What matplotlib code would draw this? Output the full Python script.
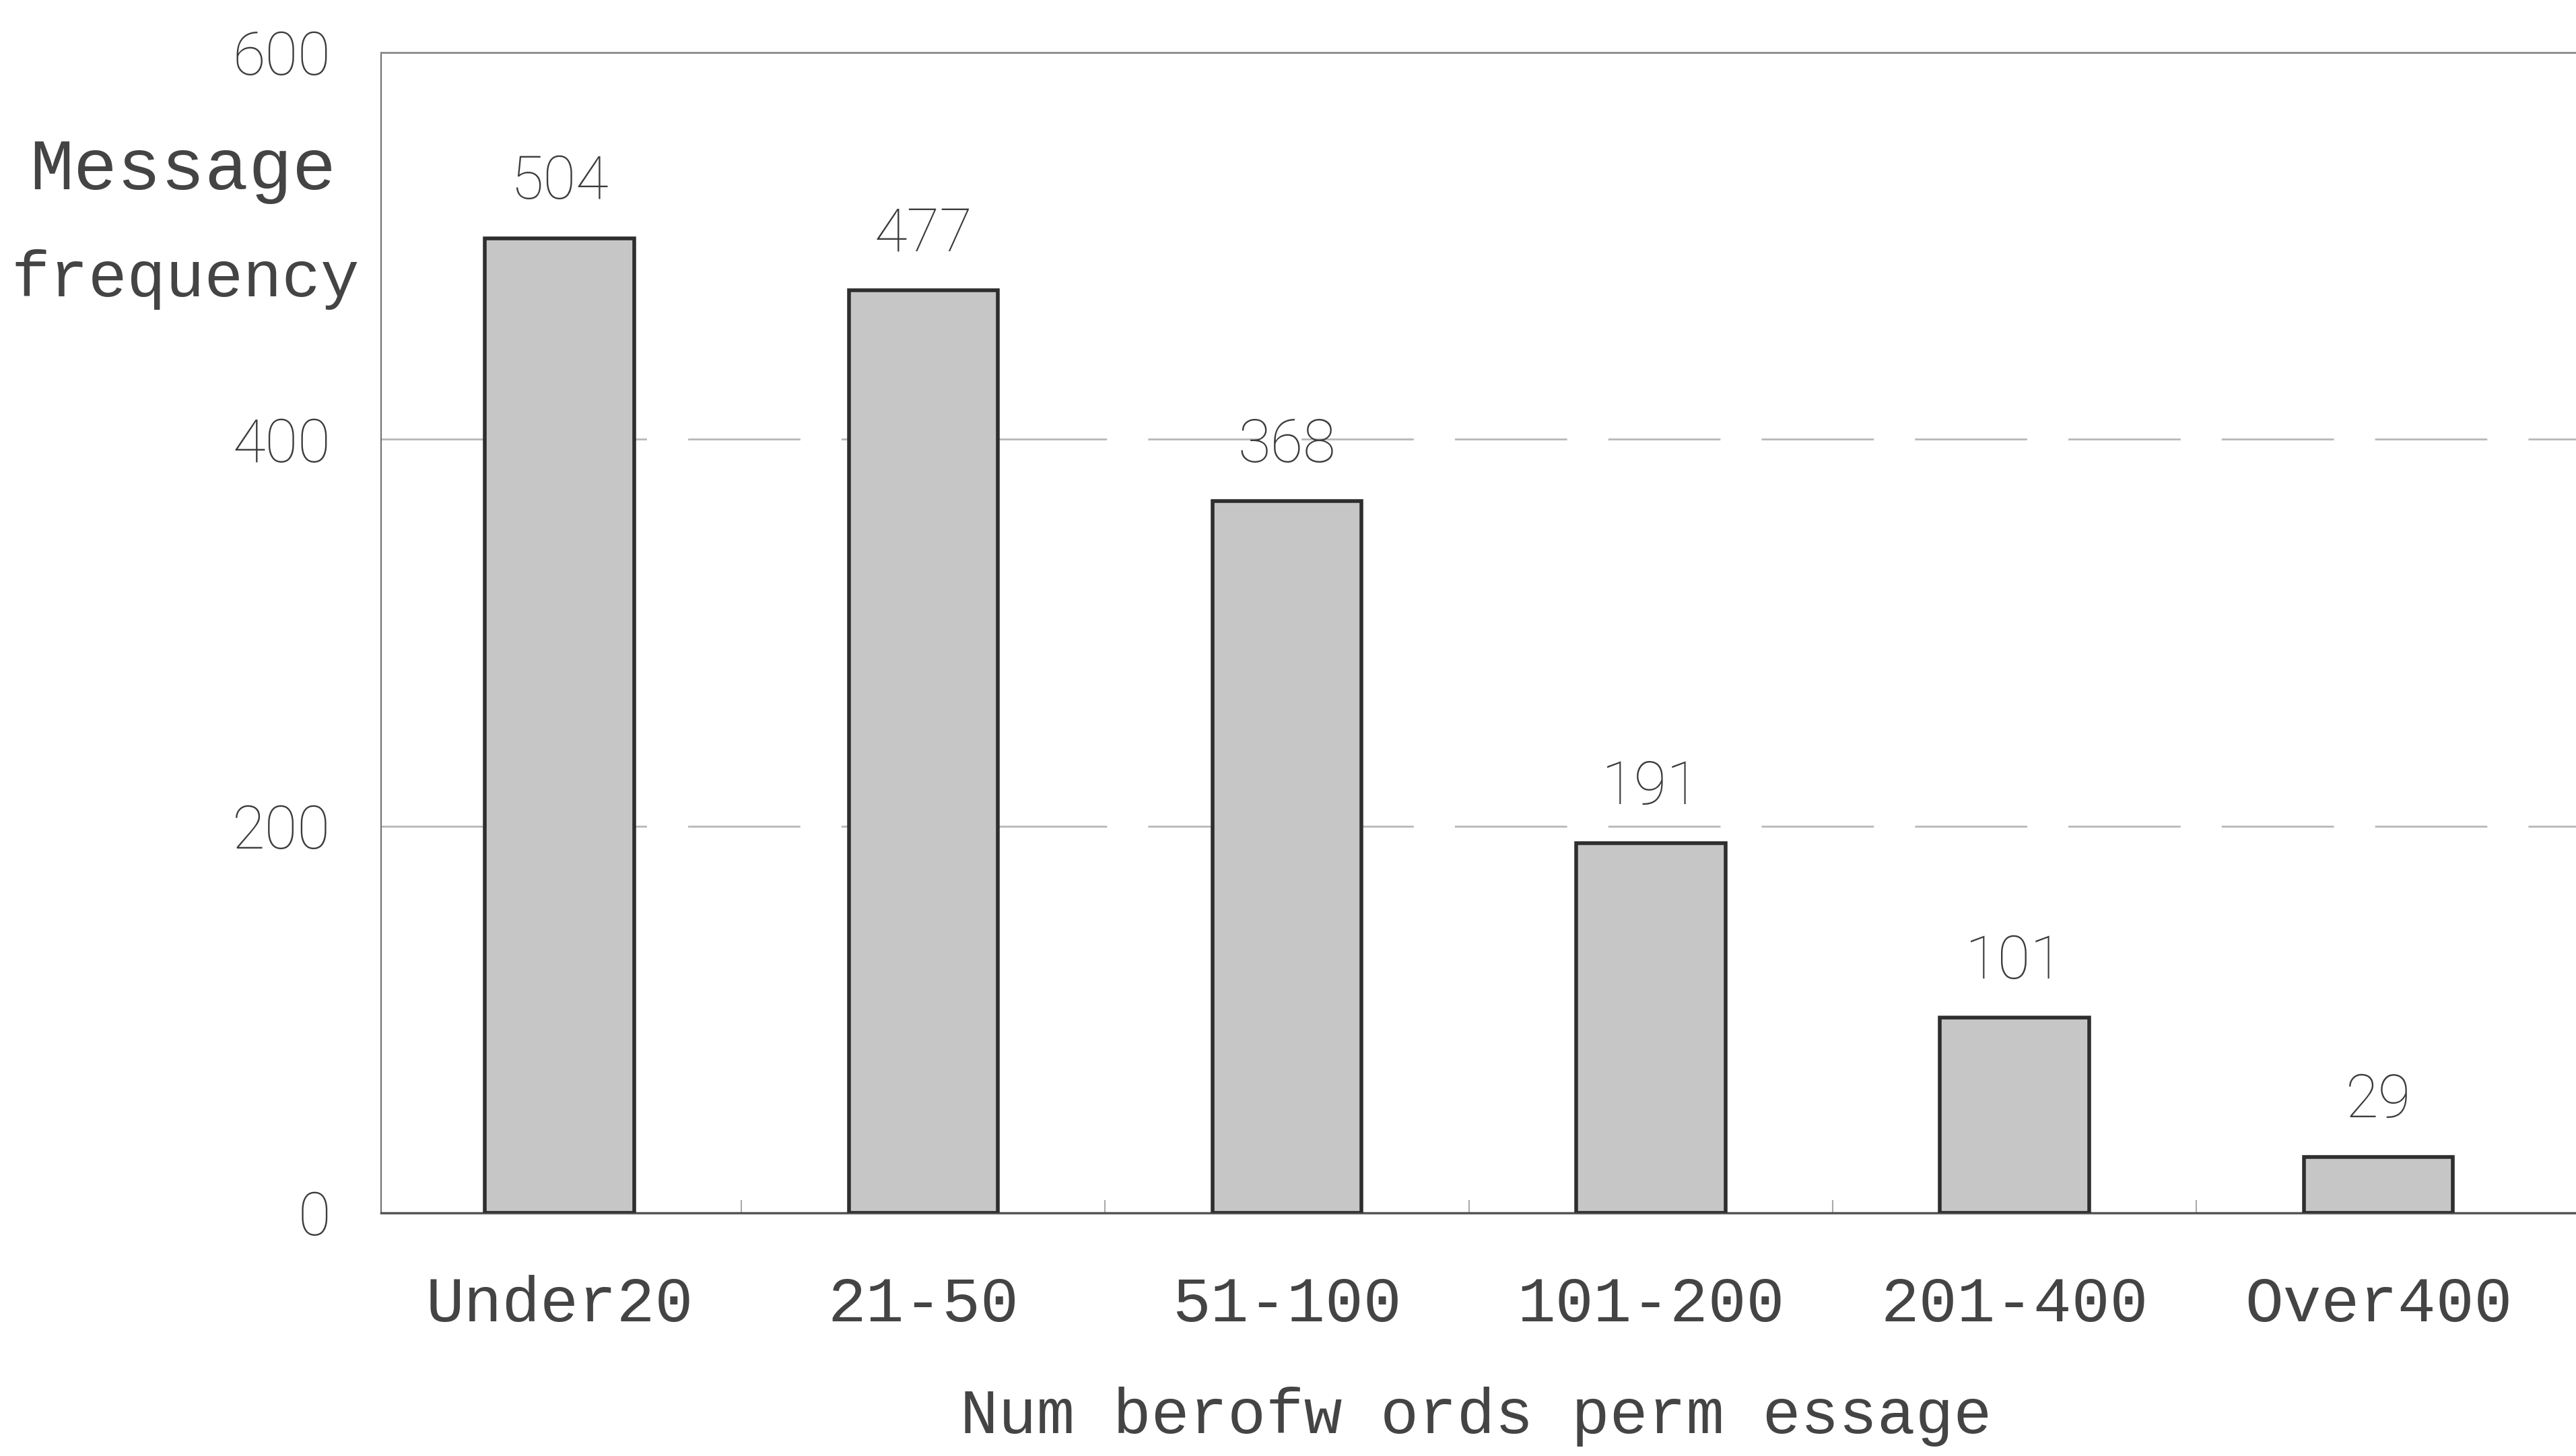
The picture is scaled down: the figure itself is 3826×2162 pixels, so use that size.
import numpy as np
import matplotlib
matplotlib.use('Agg')
import matplotlib.pyplot as plt

categories = ['Under20', '21-50', '51-100', '101-200', '201-400', 'Over400']
counts = [504, 477, 368, 191, 101, 29]
y_ticks = [0, 200, 400, 600]

num_font = ['Roboto', 'DejaVu Sans']
mono_font = ['Liberation Mono', 'DejaVu Sans Mono']

fig = plt.figure(figsize=(38.26, 21.62), dpi=100)
ax = fig.add_axes([0.148, 0.167, 0.86, 0.797])

x = np.arange(len(categories))
bars = ax.bar(x, counts, width=0.41, color='#c6c6c6', edgecolor='#2e2e2e',
              linewidth=4, zorder=3)

# value labels above bars
for xi, v in zip(x, counts):
    ax.text(xi, v + 14, str(v), ha='center', va='bottom', fontsize=64,
            family=num_font, fontweight='light', color='#3c3c3c')

ax.set_xlim(-0.49, 5.6)
ax.set_ylim(0, 600)

# dashed gridlines at 200 and 400
for yv in [200, 400]:
    ax.axhline(yv, color='#b8b8b8', linewidth=2, dashes=(60, 22), zorder=1)

ax.set_yticks(y_ticks)
ax.set_yticklabels([str(t) for t in y_ticks], fontsize=64, family=num_font,
                   fontweight='light', color='#3c3c3c')
ax.tick_params(axis='y', length=0, pad=54)

ax.set_xticks(x)
ax.set_xticklabels(categories, fontsize=68, family=mono_font, color='#444444')
ax.tick_params(axis='x', length=0, pad=66)
ax.set_xticks(x[:-1] + 0.5, minor=True)
ax.tick_params(axis='x', which='minor', direction='in', length=14,
               width=1.5, color='#aaaaaa')

ax.spines['right'].set_visible(False)
ax.spines['top'].set_color('#8a8a8a')
ax.spines['top'].set_linewidth(2)
ax.spines['left'].set_color('#707070')
ax.spines['left'].set_linewidth(1.5)
ax.spines['bottom'].set_color('#555555')
ax.spines['bottom'].set_linewidth(2.5)

# axis titles
fig.text(0.071, 0.883, 'Message', ha='center', va='center', fontsize=78,
         family=mono_font, color='#444444')
fig.text(0.072, 0.808, 'frequency', ha='center', va='center', fontsize=69,
         family=mono_font, color='#444444')
fig.text(0.573, 0.027, 'Num berofw ords perm essage', ha='center', va='center',
         fontsize=68, family=mono_font, color='#444444')

fig.savefig('out.png', dpi=100, facecolor='white')
